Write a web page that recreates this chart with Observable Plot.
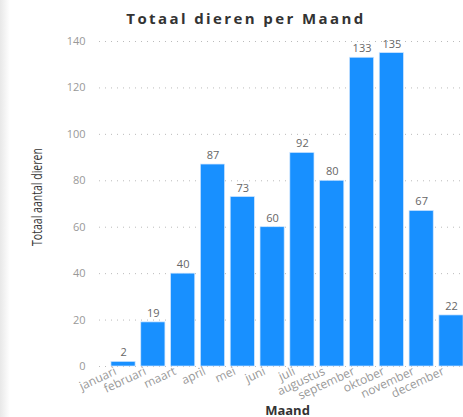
<!DOCTYPE html>
<html><head><meta charset="utf-8">
<script src="https://cdn.jsdelivr.net/npm/d3@7"></script>
<script src="https://cdn.jsdelivr.net/npm/@observablehq/plot@0.6"></script>
<style>
html,body{margin:0;padding:0;background:#fff;overflow:hidden;width:463px;height:417px;}
#wrap{position:relative;width:463px;height:417px;overflow:hidden;}
#shadow{position:absolute;left:0;top:0;width:10px;height:417px;background:linear-gradient(to right,#e8e8e8,#fff);}
#title{position:absolute;left:0;top:8px;width:492px;text-align:center;font-family:"Open Sans",sans-serif;font-weight:bold;font-size:15px;letter-spacing:2.4px;color:#333;}
#chart{position:absolute;left:0;top:30px;width:473px;}
#chart svg{max-width:none !important;}
</style></head>
<body><div id="wrap"><div id="shadow"></div><div id="title">Totaal dieren per Maand</div><div id="chart"></div></div>
<script>
const months = ["januari","februari","maart","april","mei","juni","juli","augustus","september","oktober","november","december"];
const totals = [2,19,40,87,73,60,92,80,133,135,67,22];
const yTicks = [0,20,40,60,80,100,120,140];

const data = months.map((m,i)=>({maand:m, totaal:totals[i]}));

const chart = Plot.plot({
  width: 473,
  height: 387,
  marginTop: 11,
  marginBottom: 51,
  marginLeft: 105,
  marginRight: 4,
  style: {fontFamily: "Open Sans, sans-serif", background: "transparent"},
  x: {domain: months, paddingInner: 0.19, paddingOuter: 0.2, round: false, label: null},
  y: {domain: [0,140], label: null},
  marks: [
    Plot.ruleY(yTicks, {y: d=>d, stroke: "#bbb", strokeDasharray: "1,5", insetLeft: -6}),
    Plot.barY(data, {x: "maand", y: "totaal", fill: "#1890ff", stroke: "#cfe6ff", strokeWidth: 0.7}),
    Plot.text(data, {x: "maand", y: "totaal", text: d=>String(d.totaal), dy: -9, fill: "#666", fontSize: 11, style:"letter-spacing:1.2px"}),
    Plot.axisY({ticks: yTicks, tickSize: 0, tickPadding: 20, fontSize: 11, color: "#999", label: null}),
    Plot.axisX({tickSize: 0, tickRotate: -25, tickPadding: 4, fontSize: 12, color: "#999", label: null, dx: -8}),
    Plot.text(["Maand"], {frameAnchor: "bottom", dy: 48, fontWeight: "bold", fontSize: 13, fill: "#333", style:"letter-spacing:1.5px"}),
    Plot.text(["Totaal aantal dieren"], {frameAnchor: "left", textAnchor: "middle", dx: -68, dy: -7, rotate: -90, fontSize: 14, fill: "#333", className: "ylab"})
  ]
});
document.getElementById("chart").appendChild(chart);
d3.select(chart).selectAll(".ylab text").attr("textLength", 98).attr("lengthAdjust", "spacingAndGlyphs");
</script></body></html>
